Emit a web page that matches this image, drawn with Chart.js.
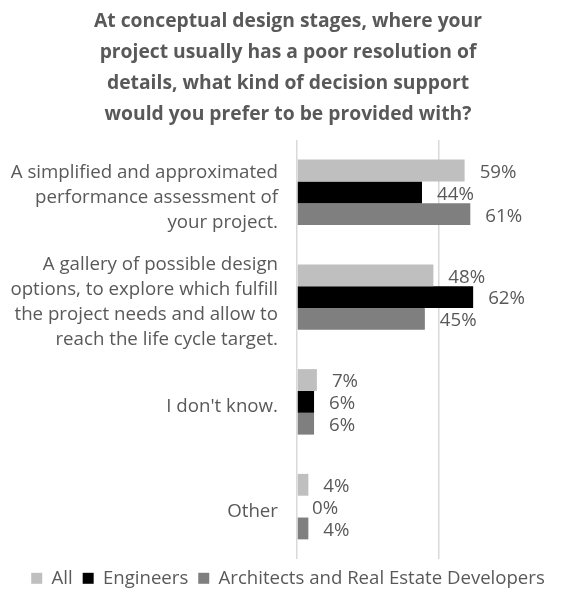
<!DOCTYPE html>
<html>
<head>
<meta charset="utf-8">
<script src="https://cdn.jsdelivr.net/npm/chart.js@4"></script>
<style>
  html, body { margin: 0; padding: 0; background: #fff; }
  #wrap { width: 576px; height: 589px; }
</style>
</head>
<body>
<div id="wrap"><canvas id="chart"></canvas></div>
<script>
// data
const titleLines = [
  "At conceptual design stages, where your",
  "project usually has a poor resolution of",
  "details, what kind of decision support",
  "would you prefer to be provided with?"
];
const categories = [
  ["A simplified and approximated", "performance assessment of", "your project."],
  ["A gallery of possible design", "options, to explore which fulfill", "the project needs and allow to", "reach the life cycle target."],
  "I don't know.",
  "Other"
];
const seriesNames = ["All", "Engineers", "Architects and Real Estate Developers"];
const allValues = [0.59, 0.48, 0.07, 0.04];
const engineerValues = [0.44, 0.62, 0.06, 0.00];
const architectValues = [0.61, 0.45, 0.06, 0.04];
const colors = ["#bfbfbf", "#000000", "#7f7f7f"];

const FONT = "'Open Sans', sans-serif";
const TEXT = "#595959";

// labels after each bar, like excel data labels
const barLabels = {
  id: "barLabels",
  afterDatasetsDraw(chart) {
    const ctx = chart.ctx;
    ctx.save();
    ctx.font = "18.7px " + FONT;
    ctx.fillStyle = TEXT;
    ctx.textAlign = "left";
    ctx.textBaseline = "middle";
    chart.data.datasets.forEach((ds, i) => {
      const meta = chart.getDatasetMeta(i);
      meta.data.forEach((el, j) => {
        const txt = Math.round(ds.data[j] * 100) + "%";
        ctx.fillText(txt, el.x + 15, el.y + 2);
      });
    });
    ctx.restore();
  }
};

// legend sits tight under the plot, so trim its height
const LegendEl = Chart.Legend && Chart.Legend._element;
if (LegendEl) {
  const fit = LegendEl.prototype.fit;
  LegendEl.prototype.fit = function () {
    fit.call(this);
    this.height = 30;
  };
}

new Chart(document.getElementById("chart"), {
  type: "bar",
  data: {
    labels: categories,
    datasets: [
      { label: seriesNames[0], data: allValues, backgroundColor: colors[0] },
      { label: seriesNames[1], data: engineerValues, backgroundColor: colors[1] },
      { label: seriesNames[2], data: architectValues, backgroundColor: colors[2] }
    ]
  },
  options: {
    indexAxis: "y",
    responsive: true,
    maintainAspectRatio: false,
    animation: false,
    categoryPercentage: 0.625,
    barPercentage: 1,
    layout: { padding: 0 },
    plugins: {
      tooltip: { enabled: false },
      title: {
        display: true,
        text: titleLines,
        color: TEXT,
        font: { family: FONT, size: 19.3, weight: "bold", lineHeight: 1.606 },
        padding: { top: 6, bottom: 10 }
      },
      legend: {
        position: "bottom",
        labels: {
          color: TEXT,
          font: { family: FONT, size: 18.6 },
          boxWidth: 11,
          boxHeight: 11,
          padding: 10
        }
      }
    },
    scales: {
      x: {
        min: 0,
        max: 0.982,
        ticks: { display: false, stepSize: 0.5 },
        border: { display: false },
        grid: {
          drawTicks: false,
          lineWidth: 1.5,
          color: c => (c.tick && (c.tick.value === 0 || c.tick.value === 0.5)) ? "#d9d9d9" : "transparent"
        }
      },
      y: {
        // fixed label column, and no extra room kept for the tall labels
        afterFit: s => {
          s.width = 297;
          s.paddingTop = 0;
          s.paddingBottom = 0;
        },
        border: { display: false },
        grid: { display: false, drawTicks: false },
        ticks: {
          color: TEXT,
          padding: 19,
          labelOffset: 5,
          autoSkip: false,
          font: { family: FONT, size: 18.7, lineHeight: 1.34 }
        }
      }
    }
  },
  plugins: [barLabels]
});
</script>
</body>
</html>
